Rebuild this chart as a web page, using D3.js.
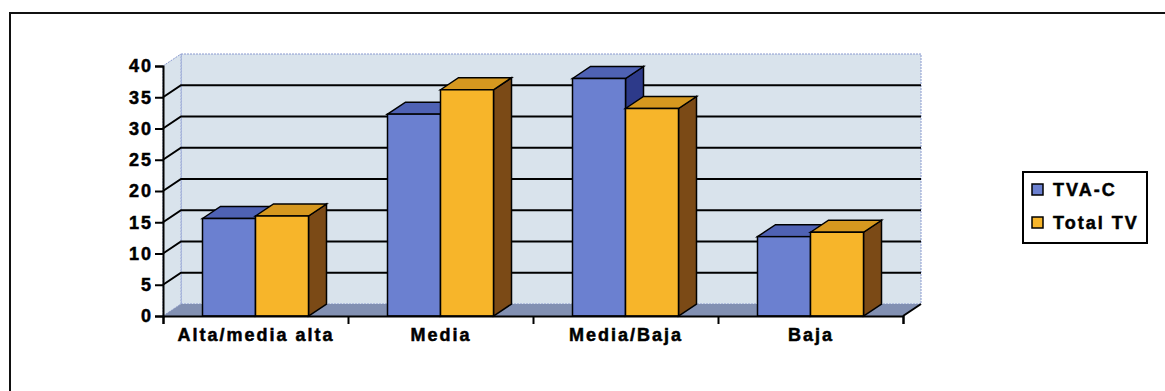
<html>
<script src="https://d3js.org/d3.v7.min.js"></script>
<style>
  body { margin: 0; background: #fff; }
  text { font-family: "Liberation Sans", Arial, sans-serif; font-weight: bold; letter-spacing: 2px; fill: #000; stroke: #000; stroke-width: 0.5px; }
</style>
<body>
<svg width="1165" height="391"></svg>
<script>
// data
var categories = ["Alta/media alta", "Media", "Media/Baja", "Baja"];
var series = ["TVA-C", "Total TV"];
var tvaC = [15.6, 32.3, 38.0, 12.7];
var totalTV = [16.0, 36.2, 33.2, 13.4];
var yTicks = [0, 5, 10, 15, 20, 25, 30, 35, 40];

var svg = d3.select("svg");

// layout
var plotLeft = 163, plotRight = 903, plotTop = 66, plotBottom = 316;
var dx = 18, dy = 12;   // depth of the 3d box

var colors = {
  "TVA-C":    { front: "#6b80d0", top: "#4f62b4", side: "#2d3a8a" },
  "Total TV": { front: "#f7b52a", top: "#d6981f", side: "#7b4a16" }
};

var y = d3.scaleLinear().domain([0, 40]).range([plotBottom, plotTop]);
var x0 = d3.scaleBand().domain(categories).range([plotLeft, plotRight])
  .paddingInner(0.427).paddingOuter(0.2135);
var x1 = d3.scaleBand().domain(series).range([0, x0.bandwidth()]);
var xEdge = d3.scaleLinear().domain([0, categories.length]).range([plotLeft, plotRight]);

// outer frame
svg.append("rect").attr("x", 10).attr("y", 13).attr("width", 1200).attr("height", 420)
  .attr("fill", "none").attr("stroke", "#111").attr("stroke-width", 2);

// walls
var wallFill = "#d9e3ec";
svg.append("rect")
  .attr("x", plotLeft + dx).attr("y", plotTop - dy)
  .attr("width", plotRight - plotLeft).attr("height", plotBottom - plotTop)
  .attr("fill", wallFill).attr("stroke", "#8a9ad0").attr("stroke-dasharray", "2,1");
svg.append("path")
  .attr("d", d3.line()([[plotLeft, y(40)], [plotLeft + dx, y(40) - dy], [plotLeft + dx, plotBottom - dy], [plotLeft, plotBottom]]) + "Z")
  .attr("fill", wallFill).attr("stroke", "#8a9ad0").attr("stroke-dasharray", "2,1");

// floor
svg.append("path")
  .attr("d", d3.line()([[plotLeft, plotBottom], [plotLeft + dx, plotBottom - dy], [plotRight + dx, plotBottom - dy], [plotRight, plotBottom]]) + "Z")
  .attr("fill", "#8290b2");
svg.append("line").attr("x1", plotRight).attr("y1", plotBottom).attr("x2", plotRight + dx).attr("y2", plotBottom - dy)
  .attr("stroke", "#000").attr("stroke-width", 2);

// gridlines on side and back wall
svg.append("g").selectAll("path")
  .data(yTicks.filter(function(d) { return d > 0 && d < 40; }))
  .enter().append("path")
  .attr("d", function(d) {
    return d3.line()([[plotLeft, y(d)], [plotLeft + dx, y(d) - dy], [plotRight + dx, y(d) - dy]]);
  })
  .attr("fill", "none").attr("stroke", "#000").attr("stroke-width", 2);

// bars
var rows = categories.map(function(c, i) {
  return { cat: c, vals: [{ s: "TVA-C", v: tvaC[i] }, { s: "Total TV", v: totalTV[i] }] };
});
var w = x1.bandwidth();
var groups = svg.append("g").selectAll("g").data(rows).enter().append("g");
groups.each(function(r) {
  var g = d3.select(this);
  r.vals.forEach(function(b) {
    var bx = x0(r.cat) + x1(b.s), by = y(b.v), c = colors[b.s];
    g.append("path")
      .attr("d", d3.line()([[bx + w, by], [bx + w + dx, by - dy], [bx + w + dx, plotBottom - dy], [bx + w, plotBottom]]) + "Z")
      .attr("fill", c.side).attr("stroke", "#000").attr("stroke-width", 1.5);
    g.append("path")
      .attr("d", d3.line()([[bx, by], [bx + dx, by - dy], [bx + w + dx, by - dy], [bx + w, by]]) + "Z")
      .attr("fill", c.top).attr("stroke", "#000").attr("stroke-width", 1.5);
    g.append("rect")
      .attr("x", bx).attr("y", by).attr("width", w).attr("height", plotBottom - by)
      .attr("fill", c.front).attr("stroke", "#000").attr("stroke-width", 1.5);
  });
});

// y axis
var yAxis = svg.append("g").attr("transform", "translate(" + plotLeft + ",0)")
  .call(d3.axisLeft(y).tickValues(yTicks).tickSize(8).tickPadding(2));
yAxis.select(".domain").attr("stroke-width", 2);
yAxis.selectAll(".tick line").attr("stroke-width", 2);
yAxis.selectAll("text").attr("font-size", 18).style("font-family", null);

// x axis: ticks at category edges, labels at centers
var xTickAxis = svg.append("g").attr("transform", "translate(0," + plotBottom + ")")
  .call(d3.axisBottom(xEdge).tickValues(d3.range(categories.length + 1)).tickSize(8).tickFormat(""));
xTickAxis.select(".domain").attr("stroke-width", 2);
xTickAxis.selectAll(".tick line").attr("stroke-width", 2);

var xLab = svg.append("g").attr("transform", "translate(0," + plotBottom + ")")
  .call(d3.axisBottom(d3.scalePoint().domain(categories).range([plotLeft + 92.5, plotRight - 92.5])).tickSize(0).tickPadding(12));
xLab.select(".domain").remove();
xLab.selectAll("text").attr("font-size", 18).style("font-family", null);

// legend
var lg = svg.append("g").attr("transform", "translate(1023,172)");
lg.append("rect").attr("width", 124).attr("height", 71)
  .attr("fill", "#fff").attr("stroke", "#000").attr("stroke-width", 2);
series.forEach(function(s, i) {
  var yy = 18 + i * 33;
  lg.append("rect").attr("x", 9).attr("y", yy - 6).attr("width", 11).attr("height", 11)
    .attr("fill", colors[s].front).attr("stroke", "#000").attr("stroke-width", 1.5);
  lg.append("text").attr("x", 30).attr("y", yy).attr("dy", "0.35em")
    .attr("font-size", 18).text(s);
});
</script>
</body>
</html>
